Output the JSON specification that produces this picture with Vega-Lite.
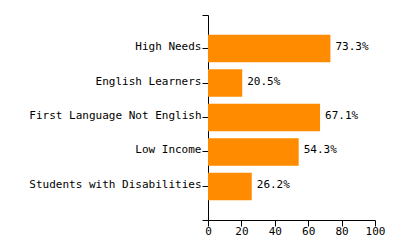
{
  "$schema": "https://vega.github.io/schema/vega-lite/v6.json",
  "autosize": "none",
  "width": 167,
  "height": 205,
  "padding": {"left": 208, "top": 15, "right": 25, "bottom": 30},
  "config": {
    "view": {"stroke": null},
    "font": "DejaVu Sans Mono",
    "axis": {
      "labelFont": "DejaVu Sans Mono",
      "labelFontSize": 11,
      "labelColor": "#000",
      "domainColor": "#000",
      "tickColor": "#000",
      "tickSize": 6,
      "grid": false,
      "title": null,
      "labelOverlap": false
    }
  },
  "data": {
    "values": [
      {"category": "High Needs", "value": 73.3},
      {"category": "English Learners", "value": 20.5},
      {"category": "First Language Not English", "value": 67.1},
      {"category": "Low Income", "value": 54.3},
      {"category": "Students with Disabilities", "value": 26.2}
    ]
  },
  "layer": [
    {
      "encoding": {
        "y": {
          "field": "category",
          "type": "nominal",
          "sort": null,
          "scale": {"type": "band", "paddingInner": 0.2, "paddingOuter": 0.575},
          "axis": {"orient": "left", "labelPadding": 1, "labelOffset": -1.5, "domain": true}
        },
        "x": {
          "field": "value",
          "type": "quantitative",
          "scale": {"domain": [0, 100], "nice": false},
          "axis": {"values": [0, 20, 40, 60, 80, 100], "labelPadding": -1, "labelFlush": false, "labelOverlap": false}
        }
      },
      "layer": [
        {"mark": {"type": "bar", "color": "#FF8C00"}},
        {
          "mark": {
            "type": "text",
            "align": "left",
            "baseline": "middle",
            "dx": 5,
            "dy": -1.5,
            "font": "DejaVu Sans Mono",
            "fontSize": 11,
            "color": "#000",
            "text": {"expr": "format(datum.value, '.1f') + '%'"}
          }
        }
      ]
    },
    {
      "mark": {"type": "rule", "opacity": 0},
      "encoding": {
        "y": {
          "datum": 0,
          "type": "quantitative",
          "scale": {"domain": [0, 1], "nice": false},
          "axis": {"orient": "left", "values": [0, 1], "labels": false, "domain": false, "tickSize": 6, "grid": false, "title": null}
        }
      }
    }
  ],
  "resolve": {"scale": {"y": "independent"}}
}
